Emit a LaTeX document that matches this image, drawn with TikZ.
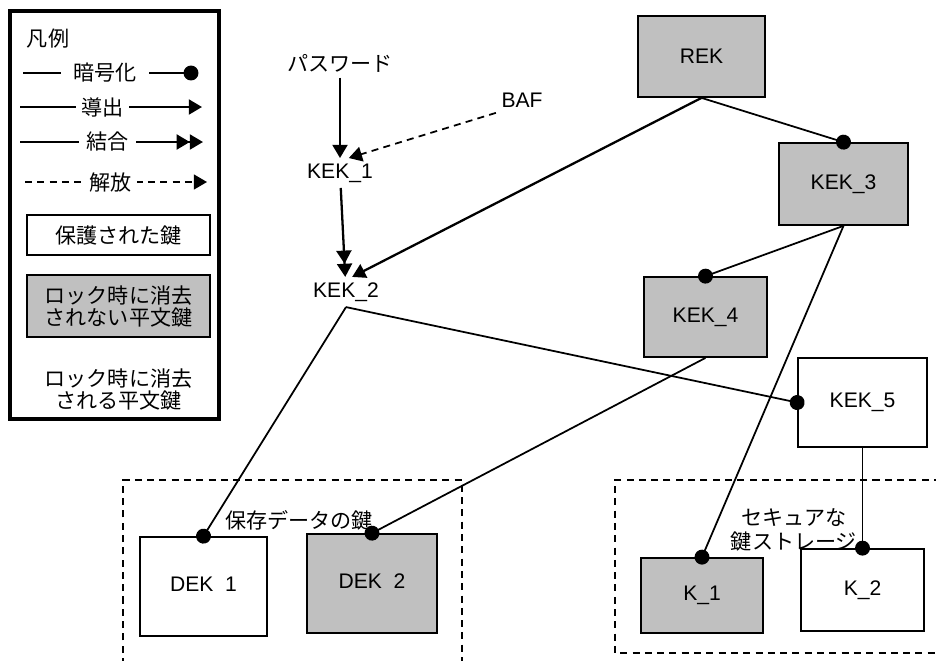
\documentclass[tikz,border=0pt]{standalone}
\usepackage{fontspec}
\setmainfont{Liberation Sans}
\newfontfamily\jpfont{Noto Sans CJK JP}
\usepackage{tikz}
\usetikzlibrary{arrows.meta, positioning}
\definecolor{lockgray}{RGB}{192,192,192}

\begin{document}
\begin{tikzpicture}[
  x=0.02cm, y=-0.02cm,
  every node/.style={font=\fontsize{12}{12.5}\selectfont},
  jp/.style={font=\jpfont\fontsize{12}{12.5}\selectfont},
  txt/.style={inner sep=3pt},
  keybox/.style={rectangle, draw=black, line width=1pt, fill=white, inner sep=0pt},
  lockbox/.style={keybox, fill=lockgray},
  legbox/.style={rectangle, draw=black, line width=1pt, minimum width=3.66cm,
                 align=center, jp},
  encrypt/.style={line width=1pt, -{Circle[length=8.5pt]}, shorten >=-4.25pt},
  derive/.style={line width=1.3pt, -{Triangle[length=7.5pt, width=8.5pt]}},
  combine/.style={line width=1.3pt,
    -{Triangle[length=7.5pt, width=8.5pt, sep=0pt] Triangle[length=7.5pt, width=8.5pt]}},
  release/.style={line width=1pt, dash pattern=on 4pt off 3pt,
    -{Triangle[length=7.5pt, width=8.5pt]}},
  grouplines/.style={line width=1pt, dash pattern=on 4pt off 3pt}
]
\useasboundingbox (0,0) rectangle (936,660);

% legend
\draw[line width=2.3pt] (10,11) rectangle (219,419);
\node[jp] (legtitle) at (48,39) {凡例};
\coordinate (encA) at (23,73);  \coordinate (encB) at (191,73);
\coordinate (derA) at (20,107); \coordinate (derB) at (202,107);
\coordinate (comA) at (20,142); \coordinate (comB) at (203,142);
\coordinate (relA) at (25,182); \coordinate (relB) at (207,182);
\draw[encrypt] (encA) -- node[jp, fill=white, inner xsep=7pt, pos=0.49] (legenc) {暗号化} (encB);
\draw[derive] (derA) -- node[jp, fill=white, inner xsep=3pt, pos=0.453] (legder) {導出} (derB);
\draw[combine] (comA) -- node[jp, fill=white, inner xsep=4pt, pos=0.478] (legcom) {結合} (comB);
\draw[release] (relA) -- node[jp, fill=white, inner xsep=3pt, pos=0.47] (legrel) {解放} (relB);
\node[legbox, minimum height=0.8cm] (legprot) at (118.5,235) {保護された鍵};
\node[legbox, fill=lockgray, minimum height=1.24cm] (leglock) at (118.5,306)
  {ロック時に消去\\されない平文鍵};
\node[jp, align=center] (legclear) at (118.5,389) {ロック時に消去\\される平文鍵};

% key groups
\draw[grouplines] (123,665) |- (462,480) -- (462,665);
\draw[grouplines] (941,480) -| (615,653) -- (941,653);

% keys
\node[jp, txt] (pw) at (340,63) {パスワード};
\node[txt] (kek1) at (340,173) {KEK\_1};
\node[txt] (kek2) at (346,292) {KEK\_2};
\node[txt] (baf) at (522,100) {BAF};
\node[lockbox, minimum width=2.54cm, minimum height=1.62cm] (rek) at (701.5,56.5) {REK};
\node[lockbox, minimum width=2.58cm, minimum height=1.64cm] (kek3) at (843.5,184) {KEK\_3};
\node[lockbox, minimum width=2.46cm, minimum height=1.6cm] (kek4) at (705.5,317) {KEK\_4};
\node[keybox, minimum width=2.58cm, minimum height=1.78cm] (kek5) at (862.5,402.5) {KEK\_5};
\node[keybox, minimum width=2.54cm, minimum height=1.98cm] (dek1) at (203.5,586.5) {DEK\phantom{\_}1};
\node[lockbox, minimum width=2.6cm, minimum height=1.98cm] (dek2) at (372,583.5) {DEK\phantom{\_}2};
\node[lockbox, minimum width=2.44cm, minimum height=1.5cm] (k1) at (702,595.5) {K\_1};
\node[keybox, minimum width=2.46cm, minimum height=1.64cm] (k2) at (862.5,590) {K\_2};
\node[jp] (stored) at (299,520) {保存データの鍵};
\node[jp, align=center, font=\jpfont\fontsize{12}{14}\selectfont] (secure) at (794,530)
  {セキュアな\\鍵ストレージ};

% connectors
\draw[derive] (pw) -- (kek1);
\draw[release] (baf.south west) -- ([xshift=5pt]kek1.north);
\draw[combine] (kek1) -- (kek2);
\draw[derive] (rek.south) -- ([xshift=3.5pt]kek2.north);
\draw[encrypt] (rek.south) -- (kek3.north);
\draw[encrypt] (kek3.south) -- (kek4.north);
\draw[encrypt] (kek3.south) -- (k1.north);
\draw[encrypt] (kek4.south) -- (dek2.north);
\draw[encrypt] (kek2.south) -- (dek1.north);
\draw[encrypt] (kek2.south) -- (kek5.west);
\draw[encrypt] (kek5.south) -- (k2.north);

\end{tikzpicture}
\end{document}
